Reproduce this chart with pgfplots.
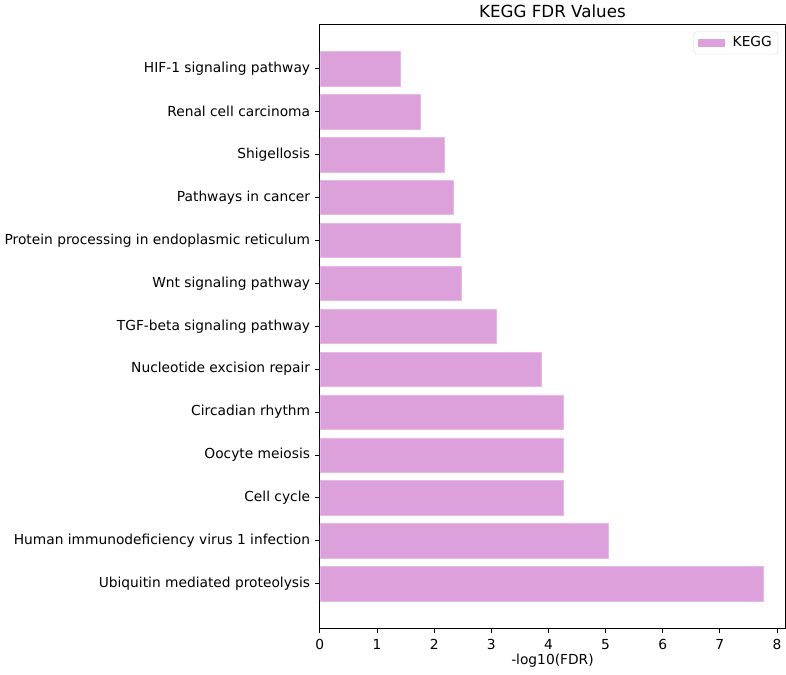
\documentclass[border=0pt]{standalone}
\usepackage{fontspec}
\setmainfont{DejaVu Sans}
\usepackage{pgfplots}
\pgfplotsset{compat=1.18}
\definecolor{barc}{RGB}{220,160,218}
\definecolor{bare}{RGB}{232,185,232}
\begin{document}
\fontsize{13.8}{16}\selectfont
\begin{tikzpicture}
\begin{axis}[
  width=465.7pt, height=604.7pt, scale only axis,
  xbar, bar width=0.8,
  xmin=0, xmax=8.14, ymin=-1.04, ymax=13.04,
  ytick={0,...,12},
  yticklabels={Ubiquitin mediated proteolysis,
    Human immunodeficiency virus 1 infection,
    Cell cycle, Oocyte meiosis, Circadian rhythm,
    Nucleotide excision repair, TGF-beta signaling pathway,
    Wnt signaling pathway, Protein processing in endoplasmic reticulum,
    Pathways in cancer, Shigellosis, Renal cell carcinoma,
    HIF-1 signaling pathway},
  xtick={0,...,8},
  tick align=outside, major tick length=5pt,
  xtick pos=bottom, ytick pos=left,
  tick style={black, line width=0.8pt},
  axis line style={line width=0.8pt},
  /pgf/number format/assume math mode=true,
  tick label style={font=\fontsize{13.8}{16}\selectfont},
  xticklabel style={yshift=-1pt},
  title={KEGG FDR Values},
  title style={font=\fontsize{16.7}{19}\selectfont, yshift=-4pt},
  xlabel={-log10(FDR)},
  xlabel style={font=\fontsize{13.8}{16}\selectfont, yshift=7pt, inner ysep=7pt},
  legend style={at={(0.985,0.988)}, anchor=north east, draw=black!15, rounded corners=3pt,
    font=\fontsize{13.8}{16}\selectfont, inner xsep=4pt, inner ysep=3pt,
    /tikz/every odd column/.append style={column sep=6pt}},
  legend cell align=left,
]
\addplot[fill=barc, draw=bare, line width=0.5pt,
  legend image code/.code={\fill[barc, draw=none, sharp corners] (0pt,-4pt) rectangle (27pt,4pt);}]
  coordinates {
  (7.76,0) (5.04,1) (4.26,2) (4.26,3) (4.26,4) (3.88,5) (3.09,6)
  (2.48,7) (2.46,8) (2.34,9) (2.18,10) (1.76,11) (1.41,12)};
\legend{KEGG}
\end{axis}
\end{tikzpicture}
\end{document}
